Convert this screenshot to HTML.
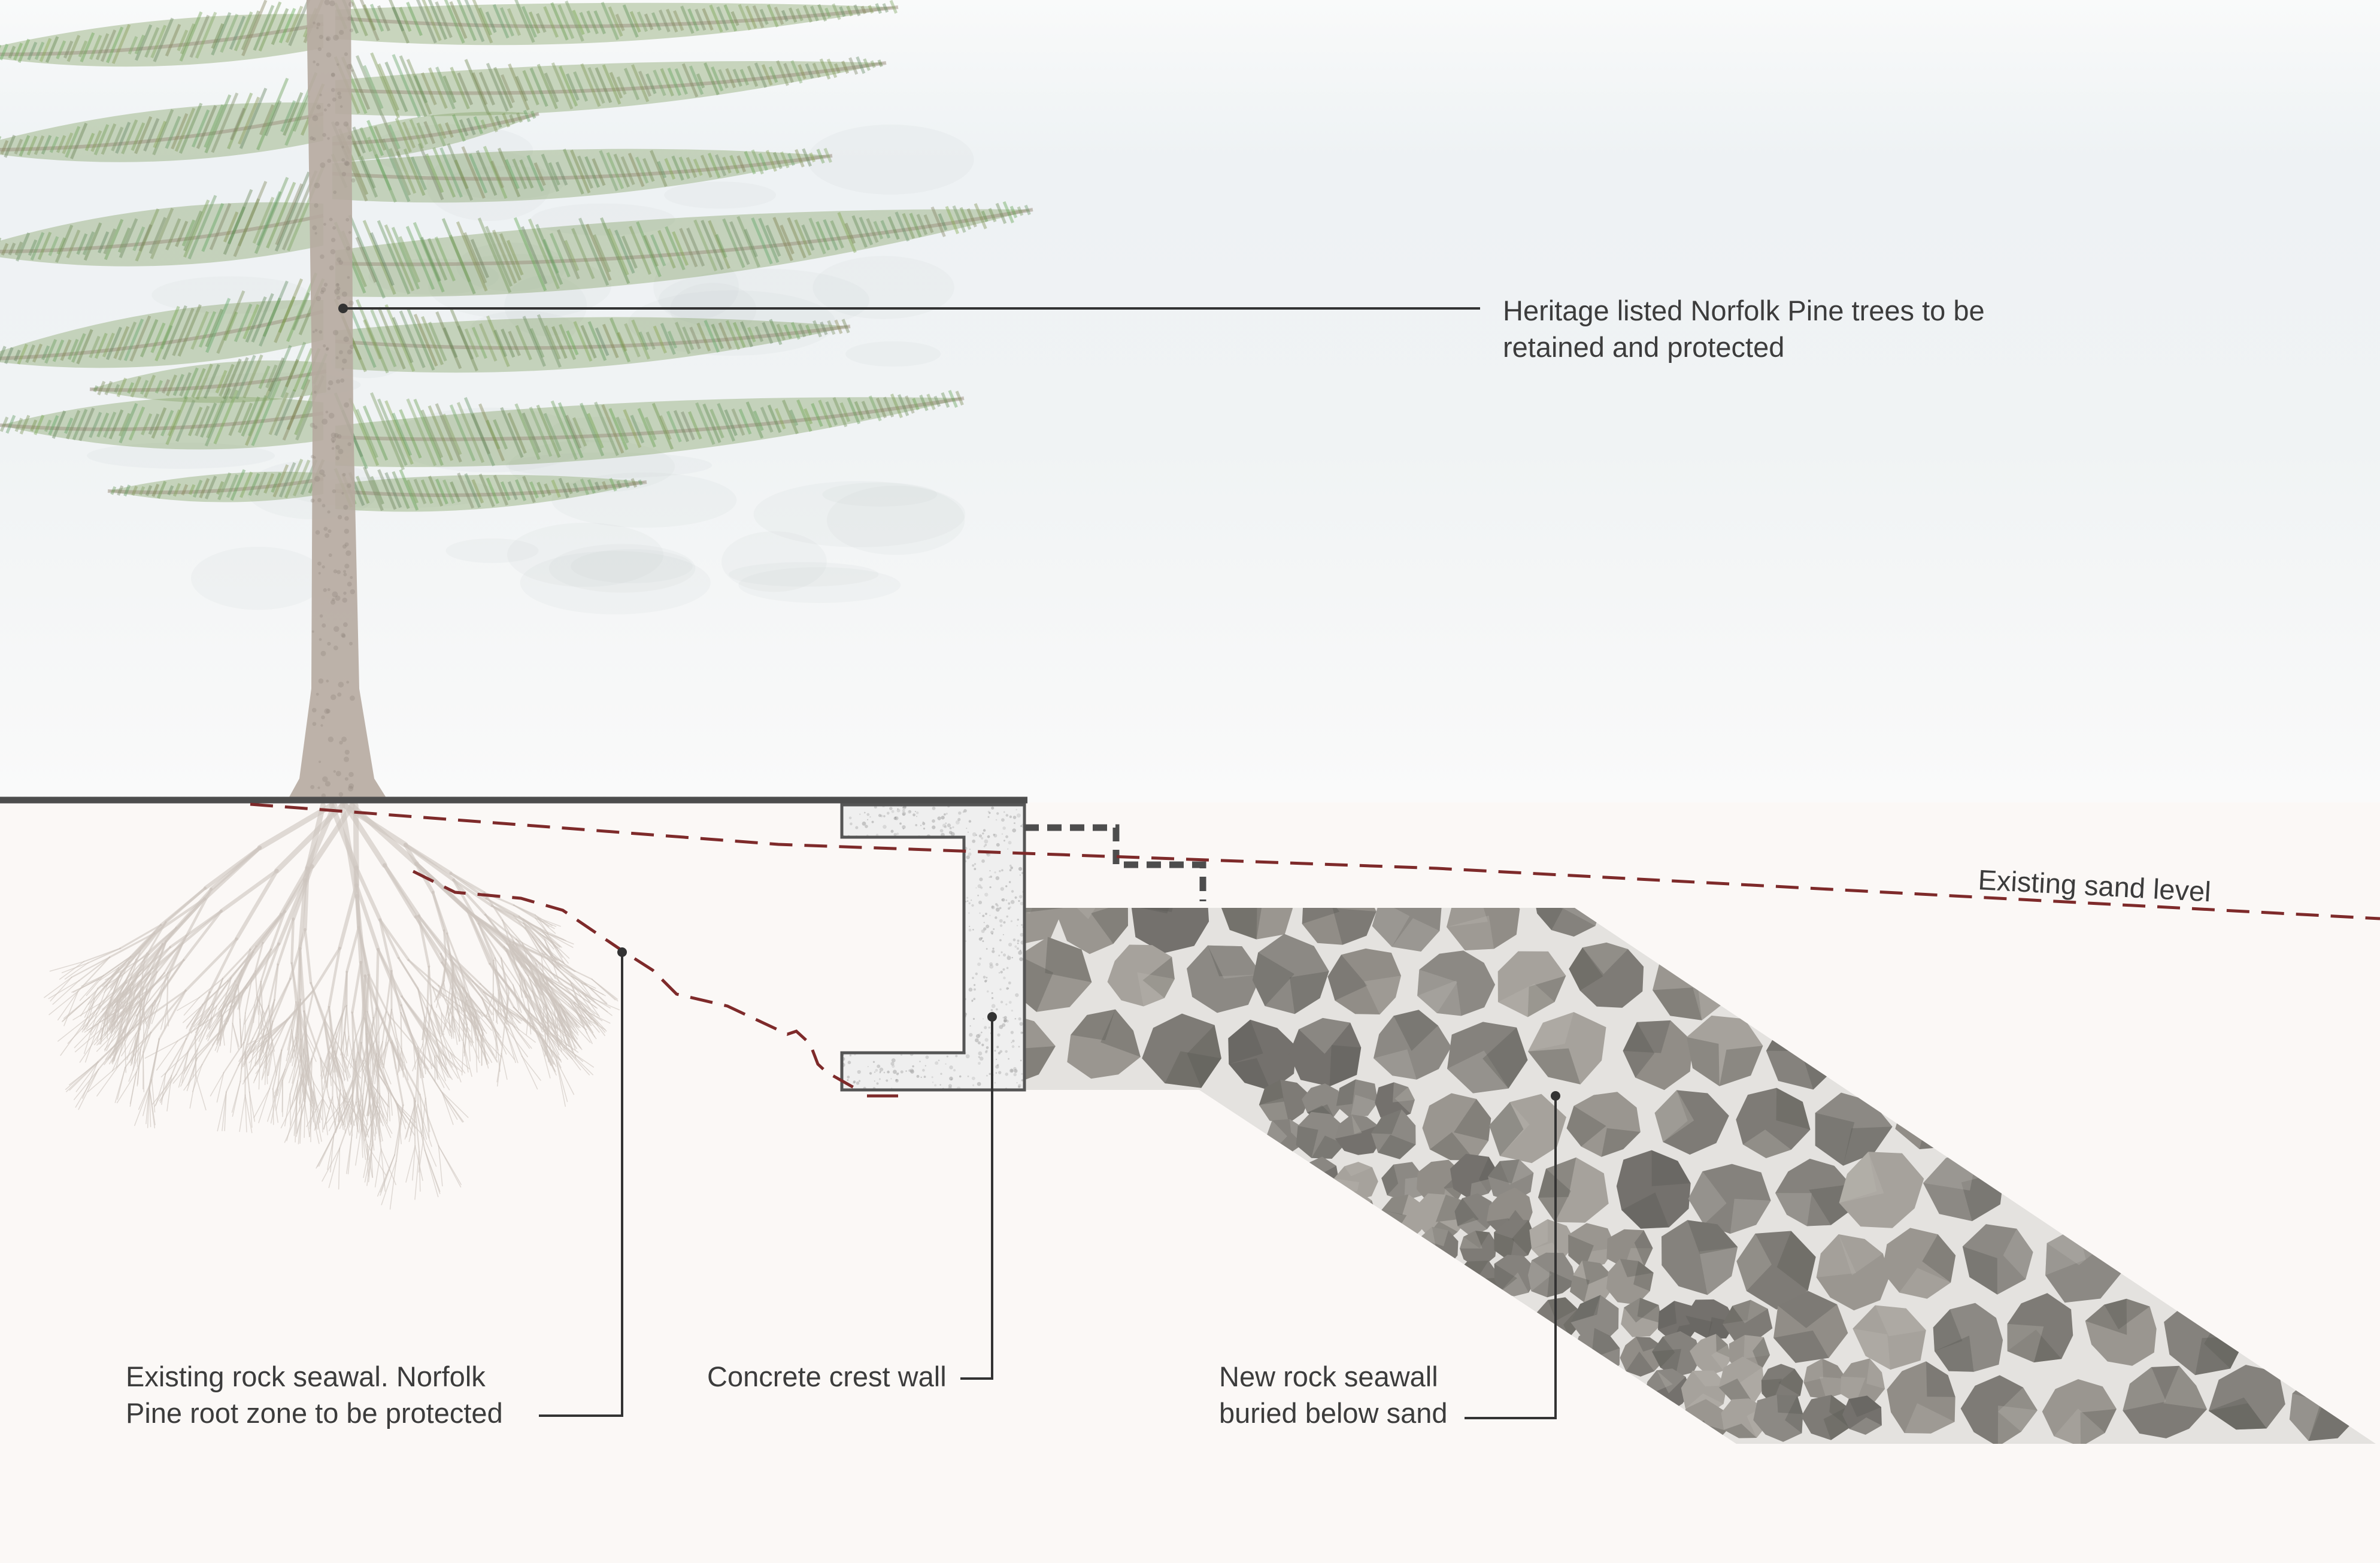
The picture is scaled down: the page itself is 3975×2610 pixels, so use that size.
<!DOCTYPE html>
<html><head><meta charset="utf-8"><style>
html,body{margin:0;padding:0;width:3975px;height:2610px;overflow:hidden;background:#fbf8f6}
svg{display:block}
text{font-family:"Liberation Sans",Arial,sans-serif;fill:#3c3c3c;font-size:47px}
</style></head><body>
<svg id="s" width="3975" height="2610" viewBox="0 0 3975 2610" xmlns="http://www.w3.org/2000/svg">
<defs>
<linearGradient id="sky" x1="0" y1="0" x2="0" y2="1">
<stop offset="0" stop-color="#f9fafa"/><stop offset="0.2" stop-color="#eef2f4"/><stop offset="0.55" stop-color="#f0f3f4"/><stop offset="1" stop-color="#fafafa"/>
</linearGradient>
<clipPath id="rockclip"><polygon points="1711,1516 2630,1516 3968,2411 2900,2411 2003,1820 1711,1820"/></clipPath>
<clipPath id="wallclip"><polygon points="1406,1344 1711,1344 1711,1820 1406,1820 1406,1758 1610,1758 1610,1398 1406,1398"/></clipPath>
<clipPath id="groundclip"><rect x="0" y="1340" width="3975" height="1270"/></clipPath>
</defs>
<rect x="0" y="0" width="3975" height="1340" fill="url(#sky)"/>
<rect x="0" y="1340" width="3975" height="1270" fill="#fbf8f6"/>
<g id="fog"></g>
<g id="roots" clip-path="url(#groundclip)"></g>
<g id="tree"></g>
<polygon points="1711,1516 2630,1516 3968,2411 2900,2411 2003,1820 1711,1820" fill="#e4e2df"/>
<g id="rocks" clip-path="url(#rockclip)"></g>
<polygon points="1406,1344 1711,1344 1711,1820 1406,1820 1406,1758 1610,1758 1610,1398 1406,1398" fill="#efefef"/>
<g id="speck" clip-path="url(#wallclip)"></g>
<polygon points="1406,1344 1711,1344 1711,1820 1406,1820 1406,1758 1610,1758 1610,1398 1406,1398" fill="none" stroke="#555" stroke-width="5"/>
<line x1="0" y1="1336" x2="1716" y2="1336" stroke="#4d4d4d" stroke-width="11"/>
<polyline points="1711,1382 1864,1382 1864,1444 2009,1444 2009,1505" fill="none" stroke="#4d4d4d" stroke-width="11" stroke-dasharray="24,14"/>
<polyline points="418,1343 1300,1410 2400,1450 3975,1534" fill="none" stroke="#7e2a2a" stroke-width="5" stroke-dasharray="38,20"/>
<polyline points="690,1455 760,1490 870,1500 940,1520 1040,1588 1090,1620 1130,1660 1215,1680 1315,1727 1330,1722 1353,1743 1366,1777 1380,1790 1433,1820" fill="none" stroke="#7e2a2a" stroke-width="5" stroke-dasharray="38,20"/>
<line x1="1448" y1="1830" x2="1500" y2="1830" stroke="#7e2a2a" stroke-width="5"/>
<g stroke="#333" stroke-width="4" fill="none">
<line x1="573" y1="515" x2="2472" y2="515"/>
<polyline points="900,2364 1039,2364 1039,1590"/>
<polyline points="1604,2302 1657,2302 1657,1698"/>
<polyline points="2446,2368 2598,2368 2598,1830"/>
</g>
<g fill="#333">
<circle cx="573" cy="515" r="8"/>
<circle cx="1039" cy="1590" r="8"/>
<circle cx="1657" cy="1698" r="8"/>
<circle cx="2598" cy="1830" r="8"/>
</g>
<text x="2510" y="535">Heritage listed Norfolk Pine trees to be</text>
<text x="2510" y="596">retained and protected</text>
<text x="3303" y="1485" transform="rotate(3 3303 1485)">Existing sand level</text>
<text x="210" y="2315">Existing rock seawal. Norfolk</text>
<text x="210" y="2376">Pine root zone to be protected</text>
<text x="1181" y="2315">Concrete crest wall</text>
<text x="2036" y="2315">New rock seawall</text>
<text x="2036" y="2376">buried below sand</text>
</svg>
<script>
(function(){
var NS="http://www.w3.org/2000/svg";
var seed=12345;function R(){seed|=0;seed=seed+0x6D2B79F5|0;var t=Math.imul(seed^seed>>>15,1|seed);t=t+Math.imul(t^t>>>7,61|t)^t;return((t^t>>>14)>>>0)/4294967296;}
function el(p,n,a){var e=document.createElementNS(NS,n);for(var k in a)e.setAttribute(k,a[k]);p.appendChild(e);return e;}
var fog=document.getElementById('fog');
for(var i=0;i<40;i++){el(fog,'ellipse',{cx:300+R()*1200,cy:250+R()*750,rx:60+R()*120,ry:20+R()*40,fill:'rgba(200,208,204,0.12)'});}
var roots=document.getElementById('roots');
function root(x,y,a,len,w,d){
 if(a<0.25)a=0.25; if(a>Math.PI-0.25)a=Math.PI-0.25;
 var x2=x+Math.cos(a)*len,y2=y+Math.sin(a)*len;
 if(y2>2060)y2=2060;
 el(roots,'line',{x1:x,y1:y,x2:x2,y2:y2,stroke:'rgba(205,197,190,0.6)','stroke-width':w,'stroke-linecap':'round'});
 if(d<=0)return;var n=R()<0.5?2:3;
 for(var k=0;k<n;k++){var na=a+(R()-0.5)*0.8;na=na+(Math.PI/2-na)*0.15;root(x2,y2,na,len*(0.72+R()*0.2),Math.max(1.5,w*0.7),d-1);}
}
for(var i=0;i<11;i++){var a=Math.PI*(0.18+i*0.064)+(R()-0.5)*0.08;root(565+(R()-0.5)*60,1345,a,110+R()*50,9,5);}
var tree=document.getElementById('tree');
function branch(sx,sy,tx,ty,w,op){
 var mx=(sx+tx)/2,my=(sy+ty)/2+Math.abs(tx-sx)*0.04;
 var d='M'+sx+','+(sy-w*0.2)+' Q'+mx+','+(my-w*0.9)+' '+tx+','+ty+' Q'+mx+','+(my+w*0.6)+' '+sx+','+(sy+w*0.5)+'Z';
 el(tree,'path',{d:d,fill:'rgba(135,165,108,'+op+')'});
 el(tree,'path',{d:'M'+sx+','+sy+' Q'+mx+','+(my+w*0.1)+' '+tx+','+ty,fill:'none',stroke:'rgba(150,135,120,0.45)','stroke-width':6});
 var L=Math.hypot(tx-sx,ty-sy);var n=Math.floor(L/12);
 for(var k=0;k<n;k++){var t=k/n;var bx=(1-t)*(1-t)*sx+2*t*(1-t)*mx+t*t*tx,by=(1-t)*(1-t)*sy+2*t*(1-t)*my+t*t*ty;
  var h=w*(1-t*0.8)*(0.5+R()*0.7);var dir=tx>sx?1:-1;
  el(tree,'line',{x1:bx,y1:by-h*0.7,x2:bx+dir*h*0.5,y2:by+h*0.5,stroke:'rgba('+(90+R()*40|0)+','+(125+R()*40|0)+','+(70+R()*30|0)+',0.4)','stroke-width':5});
 }
}
var br=[[560,30,1500,12,70],[560,150,1480,105,80],[555,290,1390,260,85],[560,440,1725,350,110],[560,570,1420,545,90],[560,730,1610,665,95],[560,820,1080,805,60],
[540,40,-60,90,80],[540,190,-60,250,90],[540,360,-60,420,100],[540,520,-40,600,95],[540,690,0,710,90],[540,800,180,820,50],[555,240,900,190,60],[545,620,150,650,70]];
for(var i=0;i<br.length;i++){var b=br[i];branch(b[0],b[1],b[2],b[3],b[4],0.42);}
el(tree,'polygon',{points:'512,0 586,0 590,700 600,1150 625,1300 650,1340 478,1340 500,1300 520,1150 522,700',fill:'rgba(182,170,160,0.9)'});
for(var i=0;i<200;i++){var yy=R()*1330;el(tree,'circle',{cx:520+R()*70,cy:yy,r:2+R()*3,fill:'rgba(140,128,118,0.3)'});}
var rocks=document.getElementById('rocks');
var cols=['#8c8984','#9a9690','#7e7b76','#a6a29c','#74716d','#918d87','#85827d'];
function inPoly(x,y){ if(y<1516||y>2411)return false; if(x<1711)return false; var rx=2630+(y-1516)/0.669; if(x>rx)return false; if(y>1820){var lx=2003+(y-1820)/0.661; if(x<lx)return false;} return true;}
function rock(cx,cy,rr){var n=7+(R()*3|0),pts=[],a0=R()*6.28;
 for(var k=0;k<n;k++){var a=a0+k/n*6.283;var r=rr*(0.85+R()*0.2);pts.push((cx+Math.cos(a)*r).toFixed(1)+','+(cy+Math.sin(a)*r*0.95).toFixed(1));}
 el(rocks,'polygon',{points:pts.join(' '),fill:cols[R()*cols.length|0]});
 for(var f=0;f<2;f++){var j=R()*n|0;el(rocks,'polygon',{points:pts[j]+' '+pts[(j+1)%n]+' '+pts[(j+2)%n]+' '+(cx+(R()-0.5)*20).toFixed(1)+','+(cy+(R()-0.5)*20).toFixed(1),fill:R()<0.5?'rgba(90,88,84,0.35)':'rgba(190,186,180,0.3)'});}
}
for(var y=1520;y<2460;y+=118){for(var x=1700+((y/118|0)%2)*65;x<4000;x+=132){
 var cx=x+(R()-0.5)*30,cy=y+(R()-0.5)*25;
 if(!inPoly(cx,cy)&&!inPoly(cx-50,cy)&&!inPoly(cx+50,cy)&&!inPoly(cx,cy+50))continue;
 var small=(cy>1820&&cx<2003+(cy-1820)/0.661+300);
 if(small){rock(cx-30,cy-28,36+R()*10);rock(cx+33,cy-25,34+R()*10);rock(cx-28,cy+32,34+R()*10);rock(cx+32,cy+30,36+R()*10);}
 else rock(cx,cy,60+R()*12);
}}
var sp=document.getElementById('speck');
for(var i=0;i<900;i++){el(sp,'circle',{cx:1406+R()*305,cy:1344+R()*476,r:1+R()*2.5,fill:'rgba(150,150,150,'+(0.2+R()*0.3).toFixed(2)+')'});}
})();
</script>
</body></html>
